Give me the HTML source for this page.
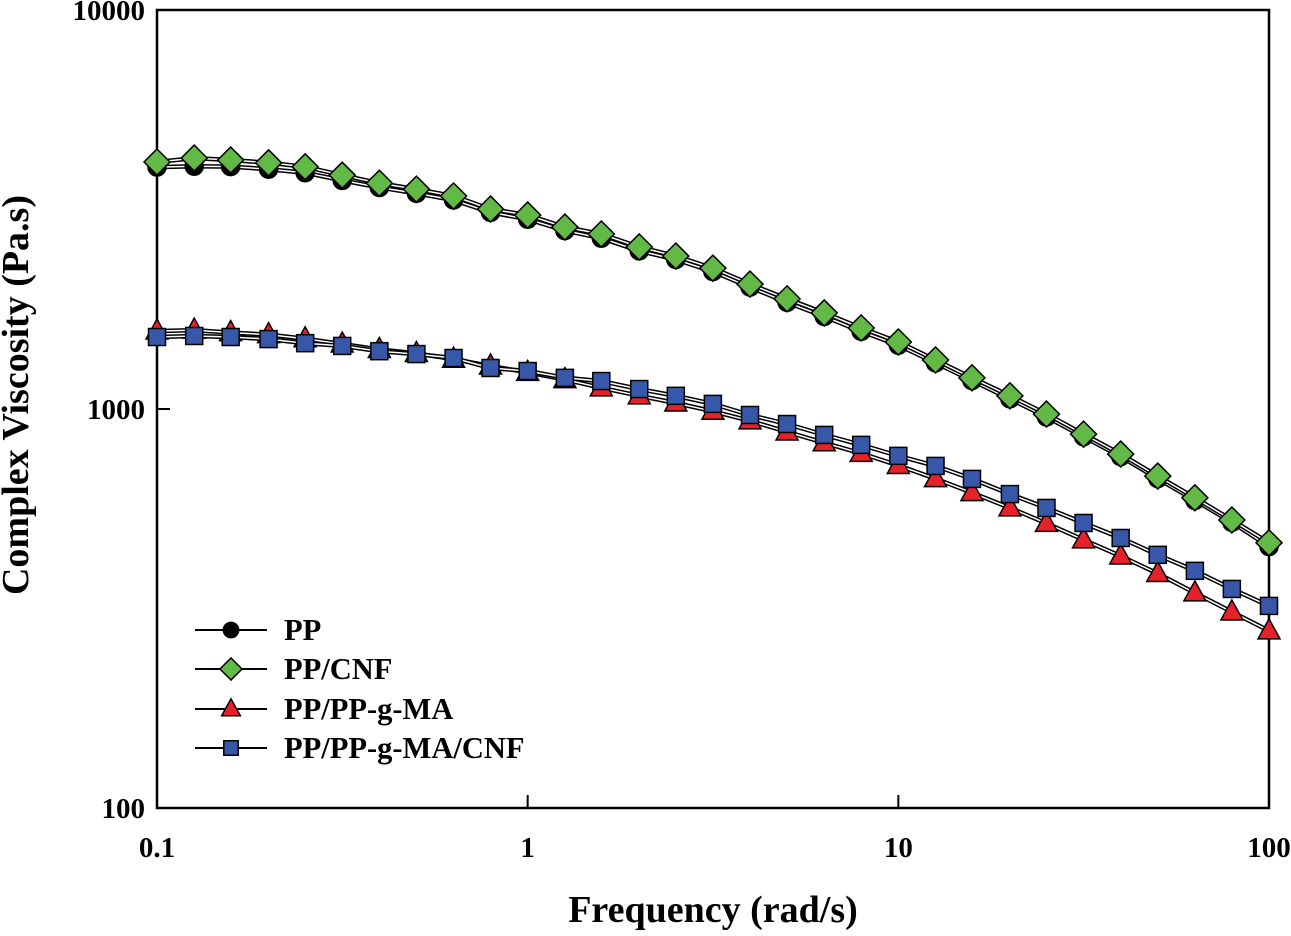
<!DOCTYPE html>
<html><head><meta charset="utf-8"><style>
html,body{margin:0;padding:0;background:#fff}
svg text{font-family:"Liberation Serif",serif;font-weight:bold;fill:#000}
</style></head><body>
<svg id="chart" width="1291" height="931" viewBox="0 0 1291 931" xmlns="http://www.w3.org/2000/svg">
<g id="axes"></g>
<g id="series"></g>
<g id="legend"></g>
<text x="713" y="922" font-size="38" text-anchor="middle">Frequency (rad/s)</text>
<text transform="translate(28,395) rotate(-90)" font-size="38" text-anchor="middle">Complex Viscosity (Pa.s)</text>
</svg>
<script>
const frequencies = [0.1,0.126,0.158,0.2,0.251,0.316,0.398,0.501,0.631,0.794,1,1.26,1.58,2,2.51,3.16,3.98,5.01,6.31,7.94,10,12.6,15.8,20,25.1,31.6,39.8,50.1,63.1,79.4,100];
const ppValues = [4040,4060,4050,3990,3910,3740,3590,3470,3340,3110,2990,2800,2680,2490,2370,2210,2020,1850,1705,1565,1445,1305,1178,1060,955,852,760,669,590,520,452];
const ppCnfValues = [4160,4255,4207,4140,4045,3855,3680,3556,3418,3170,3062,2857,2745,2547,2417,2254,2056,1888,1741,1596,1472,1327,1197,1079,971,865,771,679,599,527,462];
const ppMaValues = [1568,1577,1554,1536,1500,1455,1410,1378,1333,1282,1235,1185,1130,1079,1035,987,934,876,823,774,722,669,617,565,517,470,428,387,346,310,278];
const ppMaCnfValues = [1515,1524,1515,1497,1462,1439,1396,1373,1342,1267,1245,1197,1175,1122,1079,1030,966,917,861,813,763,720,668,612,565,518,475,431,393,354,321];
const xTickLabels = ["0.1","1","10","100"];
const xTickValues = [0.1,1,10,100];
const yTickLabels = ["100","1000","10000"];
const yTickValues = [100,1000,10000];
const seriesNames = ["PP","PP/CNF","PP/PP-g-MA","PP/PP-g-MA/CNF"];

const NS="http://www.w3.org/2000/svg";
const X0=157,X1=1269,Y0=808,Y1=10;
function xs(v){return X0+(Math.log10(v)-Math.log10(0.1))/3*(X1-X0);}
function ys(v){return Y0-(Math.log10(v)-2)/2*(Y0-Y1);}
function mk(tag,attrs,parent){const e=document.createElementNS(NS,tag);for(const k in attrs)e.setAttribute(k,attrs[k]);parent.appendChild(e);return e;}
const axes=document.getElementById('axes');
let el=mk('rect',{x:X0,y:Y1,width:X1-X0,height:Y0-Y1,fill:'none',stroke:'#000','stroke-width':2.5},axes);


xTickValues.forEach((v,i)=>{
  const tk=mk('line',{x1:xs(v),x2:xs(v),y1:Y0,y2:Y0-13,stroke:'#000','stroke-width':2},axes);
  
  
  const t=mk('text',{x:xs(v),y:Y0+49,'font-size':29,'text-anchor':'middle'},axes);
  t.textContent=xTickLabels[i];
  
  
});
yTickValues.forEach((v,i)=>{
  const tk=mk('line',{x1:X0,x2:X0+13,y1:ys(v),y2:ys(v),stroke:'#000','stroke-width':2},axes);
  
  
  const t=mk('text',{x:X0-12,y:ys(v)+10,'font-size':29,'text-anchor':'end'},axes);
  t.textContent=yTickLabels[i];
  
  
});
const styles=[
 {vals:ppValues,shape:'circle',fill:'#000',name:'pp'},
 {vals:ppCnfValues,shape:'diamond',fill:'#63b946',name:'pp-cnf'},
 {vals:ppMaValues,shape:'triangle',fill:'#e8202a',name:'pp-pp-g-ma'},
 {vals:ppMaCnfValues,shape:'square',fill:'#3758a8',name:'pp-pp-g-ma-cnf'}];
function marker(shape,x,y,fill,parent,s){
  s=s||1;
  let e;
  if(shape==='circle')e=mk('circle',{cx:x,cy:y,r:9*s,fill:fill,stroke:'#000','stroke-width':1.5},parent);
  else if(shape==='diamond')e=mk('polygon',{points:`${x},${y-13*s} ${x+13*s},${y} ${x},${y+13*s} ${x-13*s},${y}`,fill:fill,stroke:'#000','stroke-width':1.5},parent);
  else if(shape==='triangle')e=mk('polygon',{points:`${x},${y-12*s} ${x+11*s},${y+8*s} ${x-11*s},${y+8*s}`,fill:fill,stroke:'#000','stroke-width':1.5},parent);
  else e=mk('rect',{x:x-8.5*s,y:y-8.5*s,width:17*s,height:17*s,fill:fill,stroke:'#000','stroke-width':1.5},parent);
  return e;
}
const sg=document.getElementById('series');
styles.forEach(s=>{
  const g=mk('g',{},sg);
  
  
  const d=s.vals.map((v,i)=>(i?'L':'M')+xs(frequencies[i]).toFixed(1)+','+ys(v).toFixed(1)).join('');
  mk('path',{d:d,fill:'none',stroke:'#000','stroke-width':4.5},g);
  mk('path',{d:d,fill:'none',stroke:'#fff','stroke-width':1.5},g);
  s.vals.forEach((v,i)=>{
    const m=marker(s.shape,xs(frequencies[i]),ys(v),s.fill,g);
    
    
  });
});
const lg=document.getElementById('legend');
const legY=[630,669,709,748];
styles.forEach((s,i)=>{
  const g=mk('g',{},lg);
  
  
  mk('line',{x1:195,x2:267,y1:legY[i],y2:legY[i],stroke:'#000','stroke-width':2},g);
  marker(s.shape,231,legY[i],s.fill,g,0.85);
  const t=mk('text',{x:284,y:legY[i]+10,'font-size':30.5},g);
  t.textContent=seriesNames[i];
});
</script>
</body></html>
